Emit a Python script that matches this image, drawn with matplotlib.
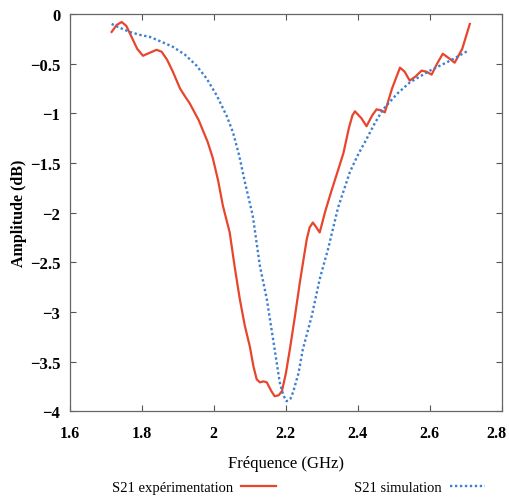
import matplotlib
matplotlib.use("Agg")
import matplotlib.pyplot as plt
import matplotlib.transforms as mtransforms

# S21 mesure (lecture sur la figure)
freq_exp = [1.716, 1.73, 1.744, 1.757, 1.77, 1.787, 1.803, 1.822, 1.841, 1.855,
            1.87, 1.886, 1.906, 1.92, 1.933, 1.958, 1.983, 1.997, 2.012, 2.025,
            2.044, 2.058, 2.072, 2.086, 2.10, 2.11, 2.119, 2.128, 2.138, 2.147,
            2.16, 2.169, 2.18, 2.189, 2.20, 2.211, 2.225, 2.239, 2.25, 2.258,
            2.266, 2.275, 2.285, 2.294, 2.31, 2.325, 2.34, 2.36, 2.375, 2.385,
            2.392, 2.41, 2.424, 2.44, 2.452, 2.465, 2.475, 2.495, 2.517, 2.53,
            2.544, 2.56, 2.577, 2.59, 2.605, 2.62, 2.636, 2.655, 2.669, 2.69,
            2.711]
s21_exp = [-0.18, -0.11, -0.08, -0.12, -0.22, -0.35, -0.42, -0.39, -0.36, -0.38,
           -0.46, -0.58, -0.75, -0.83, -0.9, -1.07, -1.29, -1.45, -1.68, -1.93,
           -2.2, -2.55, -2.87, -3.14, -3.35, -3.55, -3.68, -3.71, -3.70, -3.71,
           -3.80, -3.85, -3.84, -3.80, -3.62, -3.38, -3.05, -2.70, -2.45, -2.27,
           -2.15, -2.10, -2.15, -2.2, -1.98, -1.8, -1.63, -1.4, -1.15, -1.02,
           -0.98, -1.05, -1.13, -1.02, -0.96, -0.97, -0.99, -0.75, -0.54, -0.58,
           -0.67, -0.63, -0.57, -0.58, -0.61, -0.5, -0.40, -0.45, -0.49, -0.35,
           -0.10]

# S21 simulation
freq_sim = [1.716, 1.74, 1.766, 1.795, 1.822, 1.855, 1.886, 1.92, 1.952, 1.98,
            2.008, 2.036, 2.053, 2.07, 2.086, 2.108, 2.128, 2.147, 2.169, 2.183,
            2.193, 2.202, 2.212, 2.22, 2.235, 2.247, 2.272, 2.294, 2.317, 2.345,
            2.378, 2.40, 2.424, 2.447, 2.47, 2.51, 2.544, 2.6, 2.656, 2.706]
s21_sim = [-0.10, -0.14, -0.18, -0.21, -0.23, -0.28, -0.33, -0.41, -0.52, -0.65,
           -0.82, -1.03, -1.19, -1.42, -1.69, -2.03, -2.54, -2.87, -3.38, -3.71,
           -3.84, -3.90, -3.88, -3.81, -3.62, -3.38, -3.04, -2.67, -2.37, -1.95,
           -1.59, -1.42, -1.26, -1.10, -0.96, -0.80, -0.69, -0.57, -0.47, -0.37]

xticks = [1.6, 1.8, 2.0, 2.2, 2.4, 2.6, 2.8]
xtick_labels = ["1.6", "1.8", "2", "2.2", "2.4", "2.6", "2.8"]
yticks = [0, -0.5, -1, -1.5, -2, -2.5, -3, -3.5, -4]
ytick_labels = ["0", "\u22120.5", "\u22121", "\u22121.5", "\u22122", "\u22122.5", "\u22123", "\u22123.5", "\u22124"]

plt.rcParams["font.family"] = ["Liberation Serif", "DejaVu Serif"]

fig = plt.figure(figsize=(5.1, 5.02), dpi=100)
ax = fig.add_axes([0.137, 0.179, 0.847, 0.791])

ax.plot(freq_exp, s21_exp, color="#e8452c", lw=1.6, label="S21 expérimentation")
ax.plot(freq_sim, s21_sim, color="#3f7fd0", lw=1.7, ls=(0, (1, 1.1)), label="S21 simulation")

ax.set_xlim(1.6, 2.8)
ax.set_ylim(-4, 0)
ax.set_xticks(xticks)
ax.set_xticklabels(xtick_labels)
ax.set_yticks(yticks)
ax.set_yticklabels(ytick_labels)
ax.tick_params(direction="in", top=True, right=True, length=4, width=0.8,
               color="#555555", labelsize=12)
ax.tick_params(axis="x", pad=10, labelsize=11.5)
ax.tick_params(axis="y", pad=7)
for lab in ax.get_xticklabels() + ax.get_yticklabels():
    lab.set_fontweight("bold")

# le dernier label touche le bord : on le decale un peu a gauche
last = ax.get_xticklabels()[-1]
last.set_transform(last.get_transform() + mtransforms.ScaledTranslation(-5 / 100, 0, fig.dpi_scale_trans))

for sp in ax.spines.values():
    sp.set_color("#666666")
    sp.set_linewidth(0.9)

ax.set_ylabel("Amplitude (dB)", fontsize=11.5, fontweight="bold", labelpad=2)
ax.set_xlabel("Fréquence (GHz)", fontsize=12, labelpad=10)

fig.legend(loc="lower center", bbox_to_anchor=(0.585, -0.012), ncol=2, frameon=False,
           markerfirst=False, fontsize=10.5, handlelength=2.4, columnspacing=5.3,
           handletextpad=0.6)

fig.savefig("out.png", dpi=100)
